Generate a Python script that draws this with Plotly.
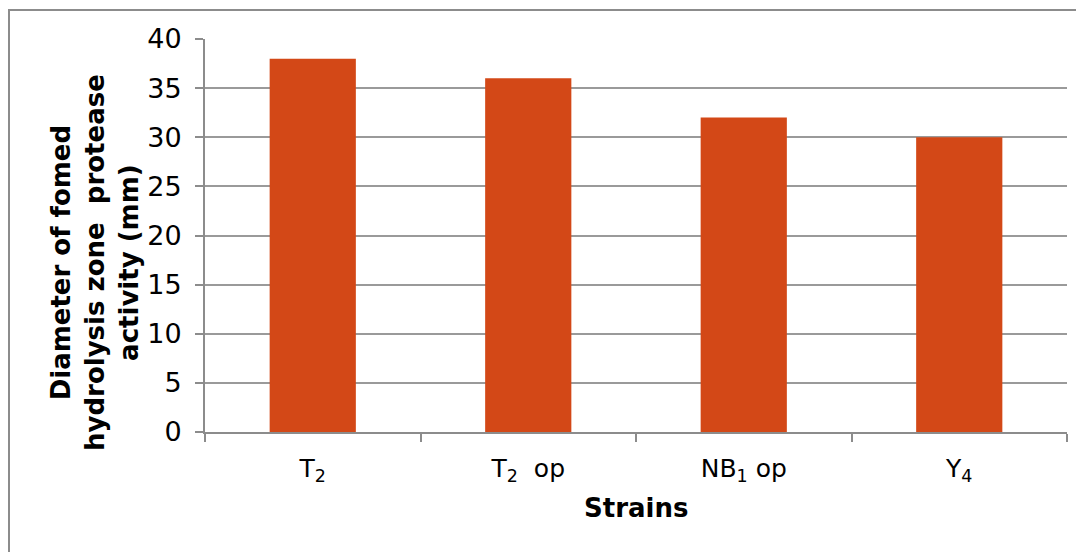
import plotly.graph_objects as go

categories = ["T<sub>2</sub>", "T<sub>2</sub>  op", "NB<sub>1</sub> op", "Y<sub>4</sub>"]
values = [38, 36, 32, 30]
y_ticks = [0, 5, 10, 15, 20, 25, 30, 35, 40]

OFF = 8  # page body margin
W, H = 1084 - OFF, 552 - OFF
L, T = 205 - OFF, 39 - OFF
R = OFF + W - 1067
B = OFF + H - 432
pw, ph = W - L - R, H - T - B

def px_x(x):
    return (x - OFF - L) / pw

def px_y(y):
    return (OFF + H - B - y) / ph

fig = go.Figure(go.Bar(x=categories, y=values, marker=dict(color="#D34817", line=dict(width=0)), width=0.4))

fig.update_layout(
    width=W, height=H,
    margin=dict(l=L, r=R, t=T, b=B),
    paper_bgcolor="white", plot_bgcolor="white",
    showlegend=False,
    font=dict(family="DejaVu Sans, Verdana, sans-serif", color="black"),
)
fig.update_xaxes(
    type="category",
    showgrid=False,
    showline=True, linecolor="#8c8c8c", linewidth=2,
    ticks="outside", tickson="boundaries", ticklen=8, tickcolor="#8c8c8c", tickwidth=2,
    tickfont=dict(size=25), ticklabelstandoff=13,
)
fig.update_yaxes(
    range=[0, 40], tickvals=y_ticks,
    showgrid=True, gridcolor="#9a9a9a", gridwidth=2,
    showline=True, linecolor="#8c8c8c", linewidth=2,
    ticks="outside", ticklen=8, tickcolor="#8c8c8c", tickwidth=2,
    tickfont=dict(size=27), zeroline=False, ticklabelstandoff=8,
)

fig.add_annotation(
    text="<b>Diameter of fomed<br>hydrolysis zone  protease<br>activity (mm)</b>",
    xref="paper", yref="paper", x=px_x(95), y=px_y(262),
    xanchor="center", yanchor="middle", textangle=-90, showarrow=False,
    font=dict(size=26),
)
fig.add_annotation(
    text="<b>Strains</b>",
    xref="paper", yref="paper", x=0.5, y=px_y(508),
    xanchor="center", yanchor="middle", showarrow=False,
    font=dict(size=26),
)
fig.add_shape(
    type="rect", xref="paper", yref="paper",
    x0=px_x(9), x1=1.2, y0=-0.6, y1=px_y(10),
    line=dict(color="#8c8c8c", width=2), fillcolor="rgba(0,0,0,0)", layer="below",
)

fig.write_html("out.html")
